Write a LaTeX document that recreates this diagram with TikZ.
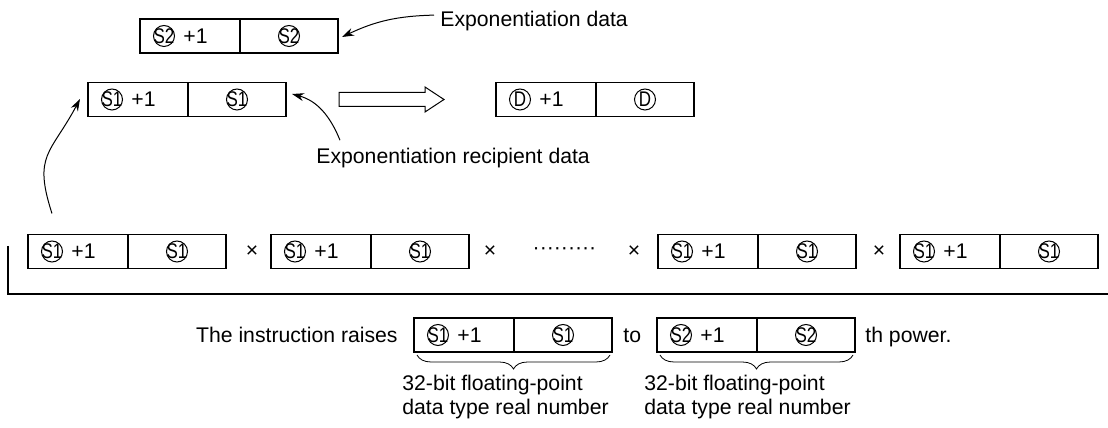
\documentclass[tikz,border=0pt]{standalone}
\usepackage{fontspec}
\setmainfont{Liberation Sans}
\usepackage{graphicx}
\usetikzlibrary{arrows.meta, positioning, decorations.pathreplacing}

\tikzset{
  cell/.style={draw, line width=0.6pt, minimum height=17pt, inner sep=0pt, outer sep=0pt},
  lcell/.style={cell, minimum width=50pt},
  rcell/.style={cell, minimum width=49pt},
  opnd/.style={circle, draw, line width=0.5pt, minimum size=10.5pt, inner sep=0pt},
  lbl/.style={inner sep=0pt},
  ptr/.style={-{Stealth[length=6pt,width=4pt]}, line width=0.5pt},
  brc/.style={decorate, decoration={brace, mirror, amplitude=7pt}, line width=0.4pt},
}
\newcommand{\opname}[1]{\makebox[0pt]{\scalebox{0.8}[1]{#1}}}
% one 32-bit register pair: name, west point, operand
\newcommand{\regpair}[3]{%
  \node[lcell, anchor=west] (#1l) at (#2) {};
  \node[rcell, right=0pt of #1l] (#1r) {};
  \node[opnd] (#1a) at ([xshift=12pt]#1l.west) {\opname{#3}};
  \node[lbl, anchor=west] (#1p) at ([xshift=4pt]#1a.east) {+1};
  \node[opnd] (#1b) at (#1r.center) {\opname{#3}};
}

\begin{document}
\begin{tikzpicture}[x=5pt, y=5pt, font=\fontsize{10.6pt}{12pt}\selectfont]
  \useasboundingbox (0,0) rectangle (110.8,42.8);

  % operands and result
  \regpair{s2}{14.0,39.2}{S2}
  \regpair{s1}{8.8,32.85}{S1}
  \regpair{d}{49.6,32.85}{D}

  \node[lbl, anchor=base west] (expdata) at (44.0,40.1) {Exponentiation data};
  \node[lbl, anchor=base west] (recip) at (31.6,26.4) {Exponentiation recipient data};

  \draw[ptr] ([xshift=-3pt,yshift=3.2pt]expdata.west) to[bend right=12] ([xshift=2pt,yshift=-0.5pt]s2r.east);
  \draw[ptr] ([xshift=12pt,yshift=4pt]recip.north west) to[out=112,in=-15] ([xshift=3pt,yshift=2.75pt]s1r.east);

  % hollow arrow
  \draw[line width=0.5pt] (33.9,33.55) -- (42.5,33.55) -- (42.5,34.1) -- (44.4,32.85)
    -- (42.5,31.6) -- (42.5,32.15) -- (33.9,32.15) -- cycle;

  % repeated product
  \regpair{m1}{2.8,17.65}{S1}
  \regpair{m2}{27.1,17.65}{S1}
  \regpair{m3}{65.8,17.65}{S1}
  \regpair{m4}{90.0,17.65}{S1}

  \node (x1) at (25.2,17.65) {×};
  \node (x2) at (49.0,17.65) {×};
  \node (x3) at (63.4,17.65) {×};
  \node (x4) at (87.9,17.65) {×};
  \node (dots) at (56.45,17.65) {·········};

  \draw[ptr] ([xshift=12pt,yshift=10.5pt]m1l.north west) to[out=108,in=-118,looseness=1.35] ([xshift=-4pt,yshift=0.25pt]s1l.west);

  \draw[line width=1.3pt] (0.8,18.2) -- (0.8,13.4) -- (110.8,13.4);

  % explanation
  \node[lbl, anchor=base east] (raises) at (39.8,8.55) {The instruction raises};
  \regpair{b1}{41.4,9.3}{S1}
  \node[lbl, anchor=base west] (to) at (62.3,8.55) {to};
  \regpair{b2}{65.7,9.3}{S2}
  \node[lbl, anchor=base west] (power) at (86.5,8.55) {th power.};

  \draw[brc] ([xshift=1.5pt,yshift=-1.5pt]b1l.south west) -- ([xshift=-1pt,yshift=-1.5pt]b1r.south east);
  \draw[brc] ([xshift=1.5pt,yshift=-1.5pt]b2l.south west) -- ([xshift=-1pt,yshift=-1.5pt]b2r.south east);

  \node[lbl, anchor=base west] (fmt1a) at (40.2,3.7) {32-bit floating-point};
  \node[lbl, anchor=base west] (fmt1b) at (40.2,1.3) {data type real number};
  \node[lbl, anchor=base west] (fmt2a) at (64.4,3.7) {32-bit floating-point};
  \node[lbl, anchor=base west] (fmt2b) at (64.4,1.3) {data type real number};
\end{tikzpicture}
\end{document}
